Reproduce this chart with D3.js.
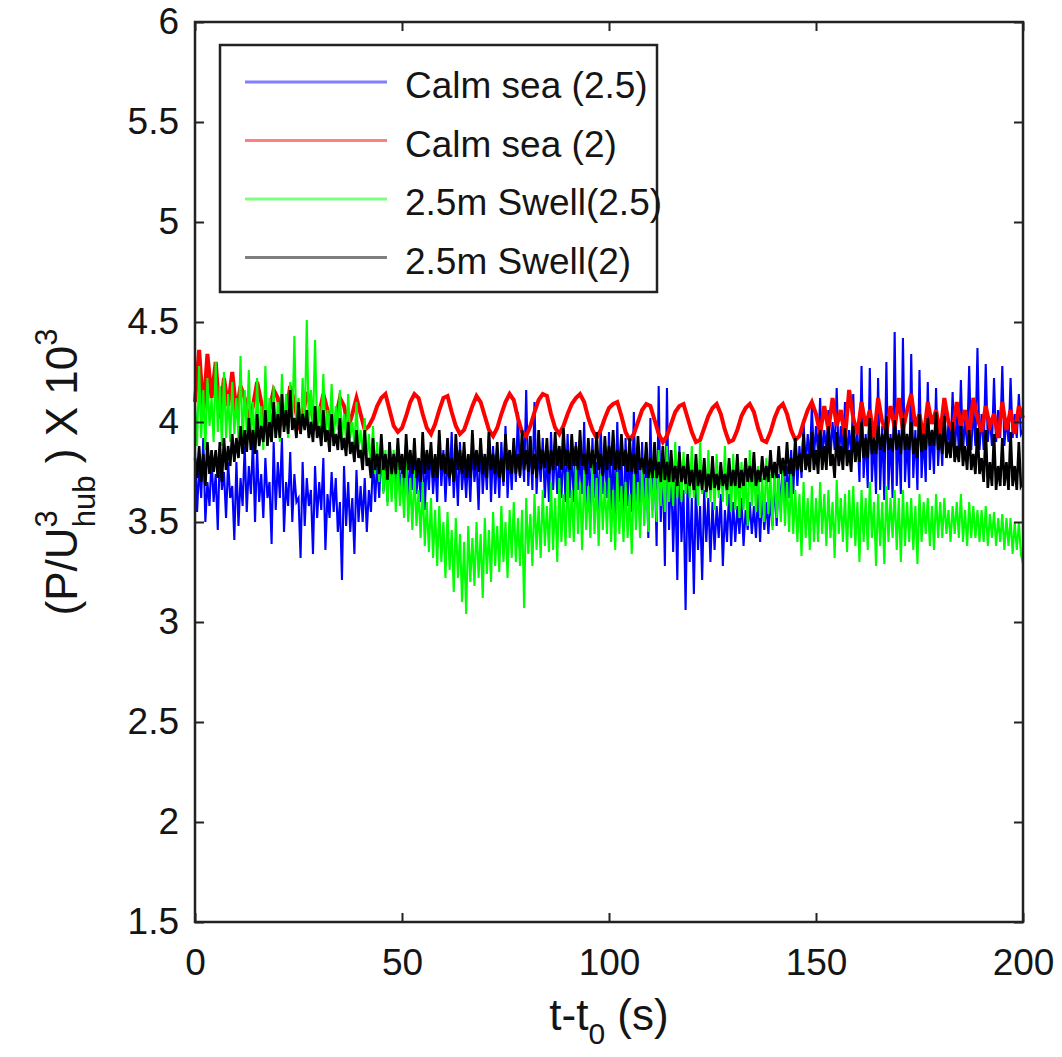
<!DOCTYPE html>
<html>
<head>
<meta charset="utf-8">
<script src="https://cdn.jsdelivr.net/npm/d3@7"></script>
<style>
  body { margin: 0; background: #fff; }
  text { font-family: "Liberation Sans", Arial, Helvetica, sans-serif; fill: #151515; }
</style>
</head>
<body>
<div id="wrapper"></div>
<script>
// calm sea (2) sampled every 1 s, the other three every 0.5 s, t = 0 .. 200
const seriesSteps = [0.5, 1, 0.5, 0.5];

const calmSea25 = [
  3.85, 3.55, 3.78, 3.62, 3.92, 3.50, 3.70, 3.58, 3.82, 3.60,
  3.74, 3.46, 3.86, 3.66, 3.75, 3.52, 3.80, 3.62, 3.68, 3.41,
  3.80, 3.48, 3.72, 3.58, 3.88, 3.55, 3.78, 3.64, 3.91, 3.50,
  3.86, 3.60, 3.74, 3.52, 3.82, 3.62, 3.70, 3.39, 3.90, 3.56,
  3.80, 3.62, 3.92, 3.45, 3.70, 3.58, 3.85, 3.50, 3.74, 3.60,
  3.62, 3.32, 3.80, 3.48, 3.72, 3.58, 3.66, 3.34, 3.78, 3.52,
  3.70, 3.56, 3.82, 3.36, 3.64, 3.52, 3.75, 3.55, 3.72, 3.45,
  3.60, 3.21, 3.78, 3.48, 3.70, 3.45, 3.62, 3.34, 3.76, 3.50,
  3.68, 3.50, 3.72, 3.45, 3.66, 3.55, 3.82, 3.60, 3.80, 3.62,
  3.88, 3.65, 3.82, 3.60, 3.90, 3.68, 3.84, 3.62, 3.85, 3.66,
  3.78, 3.62, 3.90, 3.58, 3.84, 3.66, 3.86, 3.64, 3.80, 3.60,
  3.92, 3.56, 3.82, 3.66, 3.88, 3.64, 3.80, 3.60, 3.94, 3.68,
  3.86, 3.60, 3.82, 3.68, 3.95, 3.62, 3.84, 3.58, 3.90, 3.66,
  3.80, 3.62, 3.84, 3.60, 3.88, 3.70, 3.82, 3.56, 3.92, 3.64,
  3.82, 3.66, 3.96, 3.60, 3.88, 3.64, 3.84, 3.62, 3.90, 3.68,
  3.98, 3.62, 3.86, 3.66, 3.90, 3.70, 4.05, 3.72, 3.88, 3.70,
  4.16, 3.68, 3.90, 3.66, 4.10, 3.64, 3.86, 3.70, 3.92, 3.62,
  3.84, 3.60, 3.95, 3.66, 3.88, 3.64, 3.82, 3.62, 3.90, 3.60,
  3.94, 3.62, 3.86, 3.60, 3.90, 3.66, 3.84, 3.64, 4.00, 3.58,
  3.86, 3.58, 3.92, 3.62, 3.80, 3.55, 3.98, 3.64, 3.88, 3.62,
  3.95, 3.56, 3.86, 3.52, 4.00, 3.60, 3.84, 3.46, 3.92, 3.58,
  3.88, 3.55, 4.05, 3.60, 3.86, 3.48, 3.90, 3.56, 3.82, 3.42,
  4.02, 3.56, 3.84, 3.38, 4.18, 3.50, 3.80, 3.28, 4.17, 3.46,
  3.78, 3.35, 3.70, 3.21, 3.88, 3.40, 3.66, 3.06, 3.75, 3.30,
  3.62, 3.14, 3.70, 3.36, 3.58, 3.21, 3.66, 3.40, 3.62, 3.30,
  3.60, 3.36, 3.58, 3.42, 3.64, 3.28, 3.56, 3.40, 3.64, 3.38,
  3.60, 3.40, 3.58, 3.44, 3.62, 3.38, 3.56, 3.46, 3.60, 3.44,
  3.58, 3.42, 3.64, 3.40, 3.66, 3.46, 3.60, 3.44, 3.62, 3.48,
  3.70, 3.48, 3.74, 3.56, 3.82, 3.58, 3.78, 3.62, 3.86, 3.64,
  3.90, 3.68, 3.88, 3.72, 4.00, 3.76, 3.94, 3.80, 4.08, 3.82,
  3.98, 3.84, 4.12, 3.82, 3.96, 3.86, 4.06, 3.82, 4.00, 3.86,
  4.17, 3.80, 3.98, 3.84, 4.10, 3.82, 3.96, 3.84, 4.14, 3.80,
  3.96, 3.70, 4.28, 3.72, 3.94, 3.67, 4.27, 3.70, 3.92, 3.64,
  4.22, 3.66, 3.98, 3.61, 4.30, 3.66, 3.94, 3.62, 4.45, 3.68,
  3.96, 3.64, 4.42, 3.70, 3.92, 3.67, 4.34, 3.72, 3.96, 3.66,
  4.26, 3.72, 3.94, 3.70, 4.20, 3.76, 3.96, 3.74, 4.17, 3.78,
  3.98, 3.78, 4.10, 3.82, 4.00, 3.84, 4.15, 3.82, 4.04, 3.86,
  4.21, 3.84, 4.02, 3.88, 4.28, 3.86, 4.08, 3.88, 4.37, 3.86,
  4.04, 3.86, 4.29, 3.90, 4.02, 3.88, 4.22, 3.90, 4.06, 3.92,
  4.28, 3.88, 4.02, 3.90, 4.22, 3.92, 4.04, 3.92, 4.14, 3.94,
  3.96
];

const calmSea2 = [
  4.10, 4.36, 4.05, 4.34, 4.12, 4.30, 4.02, 4.22, 4.08, 4.25,
  4.05, 4.18, 4.12, 4.00, 4.08, 4.20, 4.10, 3.98, 4.06, 4.16,
  4.12, 4.00, 4.04, 4.18, 4.10, 3.98, 4.02, 4.15, 4.08, 3.96,
  4.04, 4.14, 4.06, 3.96, 4.02, 4.12, 4.08, 3.97, 4.04, 4.12,
  4.04, 3.96, 3.98, 4.02, 4.08, 4.12, 4.14, 4.06, 3.98, 3.95,
  3.97, 4.03, 4.10, 4.14, 4.12, 4.04, 3.97, 3.94, 3.99, 4.06,
  4.12, 4.13, 4.05, 3.98, 3.94, 3.96, 4.02, 4.08, 4.13, 4.10,
  4.03, 3.96, 3.93, 3.97, 4.04, 4.10, 4.14, 4.11, 4.02, 3.95,
  3.93, 3.98, 4.05, 4.11, 4.14, 4.13, 4.04, 3.97, 3.94, 3.98,
  4.04, 4.09, 4.12, 4.14, 4.10, 4.02, 3.96, 3.92, 3.96, 4.02,
  4.07, 4.09, 4.10, 4.03, 3.95, 3.91, 3.94, 4.00, 4.06, 4.09,
  4.08, 4.01, 3.94, 3.90, 3.93, 3.99, 4.05, 4.08, 4.09, 4.02,
  3.95, 3.90, 3.91, 3.97, 4.03, 4.07, 4.09, 4.04, 3.96, 3.90,
  3.91, 3.96, 4.03, 4.07, 4.09, 4.05, 3.97, 3.91, 3.90, 3.95,
  4.02, 4.07, 4.09, 4.04, 3.96, 3.91, 3.93, 4.00, 4.06, 4.10,
  4.04, 3.94, 4.08, 3.96, 4.12, 3.98, 4.06, 3.92, 4.16, 4.02,
  3.94, 4.10, 3.98, 4.06, 3.92, 4.12, 4.00, 3.95, 4.08, 3.97,
  4.12, 3.96, 4.06, 4.14, 3.98, 4.04, 3.92, 4.10, 3.99, 4.06,
  3.94, 4.12, 4.00, 3.96, 4.10, 3.98, 4.06, 3.93, 4.12, 4.02,
  3.95, 4.08, 3.98, 4.04, 3.92, 4.10, 3.96, 4.06, 3.94, 4.08, 4.02
];

const swell25 = [
  4.10, 3.88, 4.28, 3.92, 4.16, 3.86, 4.22, 3.98, 4.12, 3.90,
  4.30, 3.95, 4.18, 3.88, 4.25, 3.92, 4.14, 3.90, 4.20, 3.94,
  4.12, 3.92, 4.33, 3.88, 4.16, 3.95, 4.26, 3.90, 4.10, 3.86,
  4.22, 3.90, 4.08, 3.86, 4.28, 3.92, 4.12, 3.90, 4.18, 3.92,
  4.10, 3.90, 4.24, 3.96, 4.14, 3.92, 4.20, 3.96, 4.43, 3.94,
  4.12, 3.94, 4.22, 3.98, 4.51, 3.96, 4.16, 3.98, 4.41, 3.95,
  4.08, 3.95, 4.24, 3.92, 4.06, 3.94, 4.19, 3.92, 4.08, 3.96,
  4.16, 3.92, 4.04, 3.90, 4.14, 3.92, 4.00, 3.88, 4.10, 3.86,
  3.96, 3.84, 4.02, 3.80, 3.94, 3.78, 3.98, 3.74, 3.90, 3.70,
  3.92, 3.64, 3.86, 3.58, 3.82, 3.60, 3.86, 3.55, 3.80, 3.58,
  3.74, 3.52, 3.82, 3.50, 3.72, 3.46, 3.76, 3.48, 3.66, 3.42,
  3.70, 3.38, 3.60, 3.35, 3.62, 3.32, 3.56, 3.28, 3.58, 3.30,
  3.50, 3.22, 3.55, 3.26, 3.46, 3.15, 3.52, 3.22, 3.44, 3.10,
  3.40, 3.04, 3.48, 3.20, 3.42, 3.18, 3.50, 3.22, 3.44, 3.12,
  3.52, 3.24, 3.46, 3.20, 3.55, 3.28, 3.48, 3.25, 3.58, 3.30,
  3.50, 3.22, 3.56, 3.32, 3.60, 3.30, 3.52, 3.28, 3.56, 3.07,
  3.62, 3.34, 3.54, 3.28, 3.64, 3.36, 3.58, 3.32, 3.66, 3.38,
  3.58, 3.35, 3.70, 3.36, 3.62, 3.30, 3.72, 3.40, 3.64, 3.38,
  3.75, 3.42, 3.66, 3.40, 3.78, 3.44, 3.70, 3.36, 3.76, 3.46,
  3.68, 3.42, 3.80, 3.44, 3.72, 3.38, 3.74, 3.46, 3.70, 3.44,
  3.72, 3.40, 3.66, 3.36, 3.75, 3.44, 3.68, 3.40, 3.70, 3.42,
  3.64, 3.34, 3.74, 3.46, 3.70, 3.42, 3.78, 3.48, 3.72, 3.45,
  3.82, 3.52, 3.76, 3.50, 3.86, 3.58, 3.80, 3.55, 3.88, 3.60,
  3.80, 3.58, 3.90, 3.62, 3.82, 3.60, 3.85, 3.64, 3.80, 3.62,
  3.88, 3.62, 3.80, 3.58, 3.90, 3.64, 3.82, 3.62, 3.86, 3.60,
  3.80, 3.56, 3.84, 3.62, 3.78, 3.60, 3.88, 3.58, 3.80, 3.55,
  3.84, 3.56, 3.76, 3.52, 3.80, 3.56, 3.74, 3.48, 3.86, 3.58,
  3.76, 3.55, 3.78, 3.52, 3.72, 3.50, 3.82, 3.54, 3.74, 3.46,
  3.80, 3.52, 3.72, 3.50, 3.76, 3.48, 3.70, 3.45, 3.74, 3.44,
  3.66, 3.40, 3.64, 3.33, 3.70, 3.42, 3.62, 3.36, 3.68, 3.40,
  3.62, 3.40, 3.70, 3.44, 3.64, 3.38, 3.66, 3.42, 3.60, 3.32,
  3.71, 3.44, 3.62, 3.40, 3.64, 3.35, 3.66, 3.42, 3.68, 3.38,
  3.60, 3.30, 3.66, 3.40, 3.62, 3.36, 3.70, 3.42, 3.60, 3.28,
  3.64, 3.38, 3.60, 3.29, 3.68, 3.40, 3.62, 3.42, 3.66, 3.36,
  3.62, 3.30, 3.66, 3.38, 3.60, 3.40, 3.62, 3.36, 3.58, 3.29,
  3.64, 3.40, 3.60, 3.44, 3.62, 3.38, 3.58, 3.36, 3.64, 3.42,
  3.60, 3.42, 3.62, 3.44, 3.56, 3.40, 3.58, 3.44, 3.60, 3.42,
  3.64, 3.40, 3.56, 3.38, 3.60, 3.42, 3.58, 3.42, 3.56, 3.40,
  3.56, 3.40, 3.58, 3.38, 3.54, 3.42, 3.55, 3.38, 3.52, 3.40,
  3.54, 3.36, 3.52, 3.38, 3.52, 3.34, 3.50, 3.36, 3.50, 3.34,
  3.29
];

const swell2 = [
  3.82, 3.72, 3.88, 3.70, 3.84, 3.68, 3.90, 3.74, 3.86, 3.75,
  3.86, 3.72, 3.90, 3.70, 3.92, 3.76, 3.88, 3.78, 3.94, 3.80,
  3.92, 3.82, 3.98, 3.84, 3.96, 3.85, 4.02, 3.86, 3.96, 3.84,
  4.04, 3.88, 3.98, 3.90, 4.06, 3.88, 4.00, 3.90, 4.10, 3.92,
  4.04, 3.92, 4.14, 3.95, 4.06, 3.94, 4.16, 3.96, 4.02, 3.92,
  4.10, 3.94, 4.04, 3.96, 4.06, 3.92, 4.00, 3.90, 4.08, 3.92,
  3.98, 3.88, 4.06, 3.90, 3.96, 3.85, 4.04, 3.88, 3.94, 3.86,
  4.02, 3.86, 3.92, 3.83, 4.00, 3.84, 3.90, 3.80, 3.96, 3.82,
  3.86, 3.76, 3.96, 3.78, 3.82, 3.72, 3.92, 3.76, 3.84, 3.74,
  3.94, 3.76, 3.84, 3.71, 3.90, 3.74, 3.84, 3.74, 3.92, 3.76,
  3.84, 3.72, 3.94, 3.76, 3.86, 3.74, 3.92, 3.72, 3.82, 3.70,
  3.95, 3.74, 3.86, 3.76, 3.90, 3.72, 3.84, 3.72, 3.96, 3.76,
  3.84, 3.74, 3.92, 3.72, 3.82, 3.70, 3.94, 3.76, 3.86, 3.74,
  3.90, 3.72, 3.84, 3.72, 3.96, 3.76, 3.86, 3.75, 3.92, 3.74,
  3.84, 3.72, 3.95, 3.76, 3.84, 3.74, 3.90, 3.72, 3.82, 3.70,
  3.94, 3.76, 3.86, 3.74, 3.92, 3.74, 3.84, 3.73, 3.96, 3.76,
  3.86, 3.75, 3.93, 3.74, 3.84, 3.72, 3.96, 3.76, 3.86, 3.77,
  3.92, 3.74, 3.86, 3.76, 3.95, 3.78, 3.88, 3.76, 3.97, 3.78,
  3.86, 3.76, 3.94, 3.78, 3.88, 3.76, 3.96, 3.78, 3.84, 3.74,
  3.92, 3.77, 3.86, 3.74, 3.95, 3.76, 3.84, 3.73, 3.93, 3.76,
  3.88, 3.78, 3.96, 3.76, 3.86, 3.76, 3.94, 3.78, 3.86, 3.75,
  3.92, 3.75, 3.84, 3.74, 3.93, 3.76, 3.82, 3.74, 3.90, 3.72,
  3.82, 3.72, 3.90, 3.72, 3.80, 3.70, 3.88, 3.71, 3.80, 3.70,
  3.86, 3.70, 3.78, 3.68, 3.85, 3.70, 3.78, 3.69, 3.84, 3.68,
  3.76, 3.66, 3.84, 3.68, 3.76, 3.66, 3.82, 3.65, 3.74, 3.66,
  3.83, 3.67, 3.74, 3.66, 3.80, 3.68, 3.74, 3.66, 3.82, 3.68,
  3.76, 3.68, 3.84, 3.67, 3.76, 3.68, 3.82, 3.70, 3.78, 3.70,
  3.85, 3.68, 3.76, 3.70, 3.83, 3.71, 3.78, 3.70, 3.86, 3.72,
  3.80, 3.72, 3.88, 3.74, 3.82, 3.73, 3.90, 3.74, 3.82, 3.73,
  3.92, 3.76, 3.84, 3.75, 3.94, 3.76, 3.84, 3.75, 3.95, 3.76,
  3.86, 3.74, 3.96, 3.76, 3.88, 3.76, 3.98, 3.78, 3.84, 3.72,
  3.95, 3.78, 3.88, 3.76, 3.97, 3.78, 3.86, 3.75, 3.98, 3.80,
  3.90, 3.80, 4.00, 3.82, 3.92, 3.82, 4.02, 3.84, 3.92, 3.84,
  3.98, 3.86, 3.94, 3.85, 4.03, 3.86, 3.92, 3.85, 4.01, 3.86,
  3.94, 3.84, 4.02, 3.86, 3.94, 3.86, 4.00, 3.84, 3.92, 3.82,
  4.04, 3.85, 3.94, 3.86, 4.02, 3.88, 3.96, 3.88, 4.05, 3.86,
  3.94, 3.84, 4.03, 3.82, 3.90, 3.82, 4.00, 3.80, 3.88, 3.80,
  3.98, 3.78, 3.88, 3.76, 3.96, 3.76, 3.84, 3.74, 3.97, 3.74,
  3.82, 3.70, 3.96, 3.67, 3.80, 3.68, 3.94, 3.66, 3.78, 3.68,
  3.92, 3.68, 3.80, 3.66, 3.95, 3.68, 3.78, 3.66, 3.90, 3.68,
  3.70
];

const seriesNames = ["Calm sea (2.5)", "Calm sea (2)", "2.5m Swell(2.5)", "2.5m Swell(2)"];
const seriesColors = ["#0000ff", "#ff0000", "#00ff00", "#000000"];
const seriesWidths = [2.1, 4, 2.1, 2.6];
const seriesValues = [calmSea25, calmSea2, swell25, swell2];

const xTicks = [0, 50, 100, 150, 200];
const yTicks = [1.5, 2, 2.5, 3, 3.5, 4, 4.5, 5, 5.5, 6];

const dimensions = {
  width: 1062,
  height: 1057,
  margin: { top: 22, right: 39, bottom: 135, left: 195 },
};
dimensions.boundedWidth = dimensions.width - dimensions.margin.left - dimensions.margin.right;
dimensions.boundedHeight = dimensions.height - dimensions.margin.top - dimensions.margin.bottom;

const svg = d3.select("#wrapper")
  .append("svg")
  .attr("width", dimensions.width)
  .attr("height", dimensions.height);

const bounds = svg.append("g")
  .attr("transform", `translate(${dimensions.margin.left},${dimensions.margin.top})`);

const xScale = d3.scaleLinear().domain([0, 200]).range([0, dimensions.boundedWidth]);
const yScale = d3.scaleLinear().domain([1.5, 6]).range([dimensions.boundedHeight, 0]);

// data lines, drawn in legend order so the black one ends on top
bounds.append("g")
  .selectAll("path")
  .data(seriesValues)
  .join("path")
  .attr("d", (d, k) =>
    d3.line()
      .x((v, i) => xScale(i * seriesSteps[k]))
      .y((v) => yScale(v))(d)
  )
  .attr("fill", "none")
  .attr("stroke", (d, i) => seriesColors[i])
  .attr("stroke-width", (d, i) => seriesWidths[i])
  .attr("stroke-linejoin", "miter");

// axes, MATLAB style: box with inward ticks on all sides
const fmt = (d) => (d % 1 ? d.toFixed(1) : d.toFixed(0));
const tickLen = 9;

const xAxisBottom = bounds.append("g")
  .attr("transform", `translate(0,${dimensions.boundedHeight})`)
  .call(d3.axisBottom(xScale).tickValues(xTicks).tickSizeInner(-tickLen).tickSizeOuter(0).tickPadding(27).tickFormat(fmt));
const xAxisTop = bounds.append("g")
  .call(d3.axisTop(xScale).tickValues(xTicks).tickSizeInner(-tickLen).tickSizeOuter(0).tickFormat(""));
const yAxisLeft = bounds.append("g")
  .call(d3.axisLeft(yScale).tickValues(yTicks).tickSizeInner(-tickLen).tickSizeOuter(0).tickPadding(16).tickFormat(fmt));
const yAxisRight = bounds.append("g")
  .attr("transform", `translate(${dimensions.boundedWidth},0)`)
  .call(d3.axisRight(yScale).tickValues(yTicks).tickSizeInner(-tickLen).tickSizeOuter(0).tickFormat(""));

[xAxisBottom, xAxisTop, yAxisLeft, yAxisRight].forEach((ax) => {
  ax.select(".domain").remove();
  ax.selectAll(".tick line").attr("stroke", "#222").attr("stroke-width", 2);
  ax.selectAll(".tick text")
    .attr("fill", "#151515")
    .style("font-family", "'Liberation Sans', Arial, sans-serif")
    .style("font-size", "37px");
});

bounds.append("rect")
  .attr("x", 0)
  .attr("y", 0)
  .attr("width", dimensions.boundedWidth)
  .attr("height", dimensions.boundedHeight)
  .attr("fill", "none")
  .attr("stroke", "#222")
  .attr("stroke-width", 2.5);

// legend
const legend = svg.append("g").attr("transform", "translate(220,45)");
legend.append("rect")
  .attr("width", 437)
  .attr("height", 247)
  .attr("fill", "#fff")
  .attr("stroke", "#222")
  .attr("stroke-width", 2.5);

const legendRows = legend.selectAll("g.row")
  .data(seriesNames)
  .join("g")
  .attr("class", "row")
  .attr("transform", (d, i) => `translate(0,${37 + i * 58.5})`);

legendRows.append("line")
  .attr("x1", 25)
  .attr("x2", 167)
  .attr("stroke", (d, i) => seriesColors[i])
  .attr("stroke-opacity", 0.5)
  .attr("stroke-width", 3);

legendRows.append("text")
  .attr("x", 185)
  .attr("y", 16)
  .style("font-size", "37px")
  .text((d) => d);

// axis titles
const xTitle = svg.append("text")
  .attr("x", dimensions.margin.left + dimensions.boundedWidth / 2)
  .attr("y", 1030)
  .attr("text-anchor", "middle")
  .style("font-size", "44px");
xTitle.append("tspan").text("t-t");
xTitle.append("tspan").attr("dy", 14).style("font-size", "30px").text("0");
xTitle.append("tspan").attr("dy", -14).text(" (s)");

const yTitle = svg.append("text")
  .attr("transform", `translate(77,${dimensions.margin.top + dimensions.boundedHeight / 2}) rotate(-90)`)
  .attr("text-anchor", "middle")
  .style("font-size", "44px");
yTitle.append("tspan").text("(P/U");
yTitle.append("tspan").attr("dy", -20).style("font-size", "31px").text("3");
yTitle.append("tspan").attr("dx", -17).attr("dy", 38).style("font-size", "31px").text("hub");
yTitle.append("tspan").attr("dy", -18).text(" ) X 10");
yTitle.append("tspan").attr("dy", -20).style("font-size", "31px").text("3");
</script>
</body>
</html>
